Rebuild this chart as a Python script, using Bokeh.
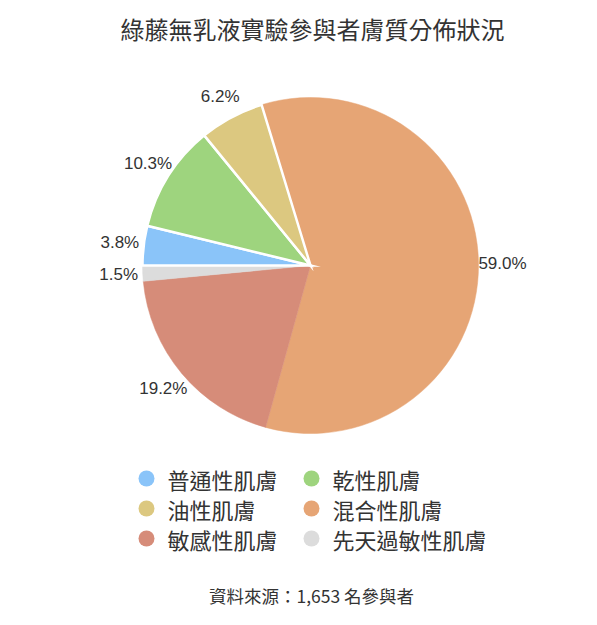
import math
from bokeh.plotting import figure
from bokeh.models import Range1d, ColumnDataSource, CDSView, IndexFilter
from bokeh.core.properties import value
from bokeh.embed import file_html
from bokeh.resources import INLINE

# ---- data ----
title = "綠藤無乳液實驗參與者膚質分佈狀況"
categories = ["普通性肌膚", "乾性肌膚", "油性肌膚", "混合性肌膚", "敏感性肌膚", "先天過敏性肌膚"]
shares = [3.8, 10.3, 6.2, 59.0, 19.2, 1.5]
colors = ["#8ac4f9", "#9ed47e", "#dcc880", "#e6a575", "#d68c79", "#dcdcdc"]
outlined = [1, 1, 1, 0, 0, 0]
footer = "資料來源：1,653 名參與者"

# ---- layout ----
W, H = 581, 609
CX, CY, R = 310, 344, 168
LABEL_R = 192
CJK = "Noto Sans CJK TC"
LAT = "Liberation Sans"
TXT = "#333333"

total = sum(shares)
starts, ends, mids = [], [], []
cum = 0.0
for s in shares:
    f0 = cum / total
    cum += s
    f1 = cum / total
    starts.append(math.pi - 2 * math.pi * f0)
    ends.append(math.pi - 2 * math.pi * f1)
    mids.append(math.pi - 2 * math.pi * (f0 + f1) / 2)

src = ColumnDataSource(dict(
    x=[CX] * len(shares), y=[CY] * len(shares),
    start=starts, end=ends, color=colors,
    lx=[CX + LABEL_R * math.cos(a) for a in mids],
    ly=[CY + LABEL_R * math.sin(a) for a in mids],
    lab=[f"{s:.1f}%" for s in shares],
))

p = figure(width=W, height=H, output_backend="svg", toolbar_location=None,
           x_range=Range1d(0, W), y_range=Range1d(0, H), min_border=0,
           x_axis_location=None, y_axis_location=None)
p.grid.visible = False
p.outline_line_color = None

plain = [i for i, o in enumerate(outlined) if not o]
stroked = [i for i, o in enumerate(outlined) if o]
p.wedge(x="x", y="y", radius=R, start_angle="start", end_angle="end",
        direction="clock", fill_color="color", line_color="color", line_width=0.5,
        source=src, view=CDSView(filter=IndexFilter(plain)))
p.wedge(x="x", y="y", radius=R, start_angle="start", end_angle="end",
        direction="clock", fill_color="color", line_color="white", line_width=2.5,
        line_join="miter", source=src, view=CDSView(filter=IndexFilter(stroked)))

p.text(x="lx", y="ly", text="lab", source=src, text_align="center",
       text_baseline="middle", text_font=value(LAT), text_font_size="17px",
       text_color=TXT)

# title
p.text(x=[312], y=[581], text=[title], text_align="center", text_baseline="middle",
       text_font=value(CJK), text_font_size="24px", text_color=TXT)

# legend (2 columns)
col_x = [146, 311]
row_y = [131, 101, 71]
lx, ly = [], []
for i, c in enumerate(categories):
    r, k = divmod(i, 2)
    lx.append(col_x[k])
    ly.append(row_y[r])
leg = ColumnDataSource(dict(x=lx, y=ly, tx=[v + 21 for v in lx], c=colors, t=categories))
p.scatter(x="x", y="y", size=16, marker="circle", fill_color="c", line_color=None, source=leg)
p.text(x="tx", y="y", text="t", source=leg, text_align="left", text_baseline="middle",
       text_font=value(CJK), text_font_size="22px", text_color=TXT)

# footer
p.text(x=[311], y=[14], text=[footer], text_align="center", text_baseline="middle",
       text_font=value(CJK), text_font_size="17.5px", text_color=TXT)

open("out.html", "w").write(file_html(p, INLINE))
